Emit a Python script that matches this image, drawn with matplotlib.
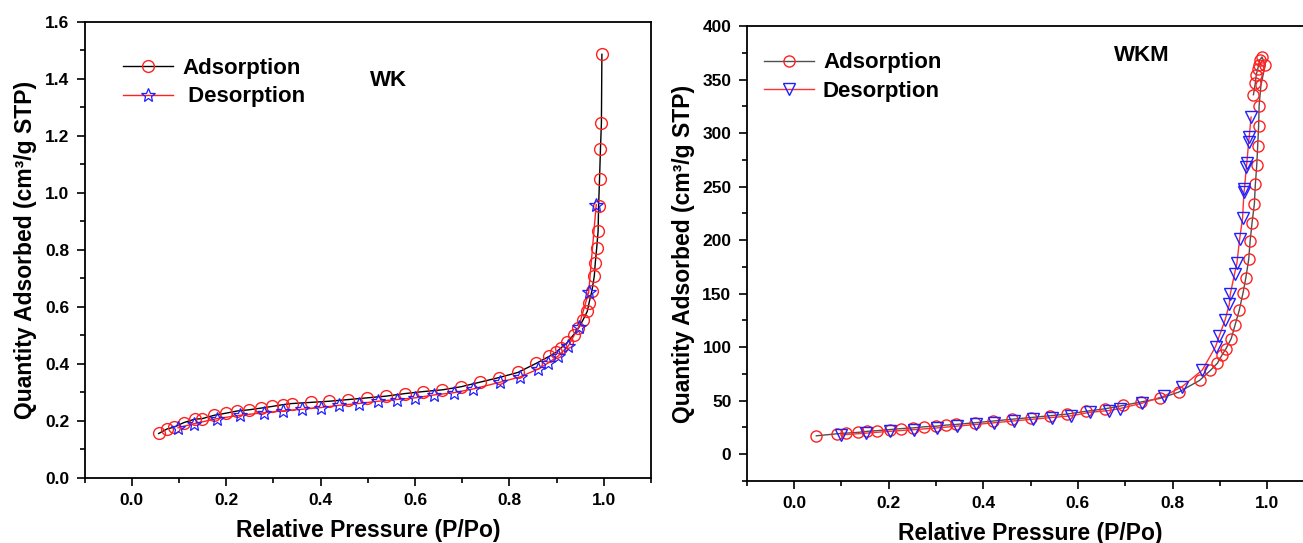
import matplotlib
matplotlib.use("Agg")
import matplotlib.pyplot as plt
from matplotlib.ticker import MultipleLocator

plt.rcParams["font.family"] = ["Liberation Sans", "DejaVu Sans"]
plt.rcParams["font.weight"] = "bold"

# ---- WK (left panel) ----
wk_ads_x = [0.057, 0.075, 0.089, 0.110, 0.133, 0.149, 0.175, 0.199, 0.224, 0.248,
            0.274, 0.298, 0.320, 0.339, 0.379, 0.418, 0.459, 0.499, 0.539, 0.579,
            0.618, 0.658, 0.698, 0.738, 0.778, 0.818, 0.857, 0.885, 0.899, 0.910,
            0.923, 0.936, 0.946, 0.956, 0.965, 0.969, 0.975, 0.980, 0.982, 0.985,
            0.988, 0.989, 0.991, 0.993, 0.995, 0.996]
wk_ads_y = [0.156, 0.172, 0.178, 0.194, 0.206, 0.208, 0.220, 0.227, 0.235, 0.239,
            0.245, 0.251, 0.257, 0.261, 0.265, 0.269, 0.275, 0.281, 0.287, 0.296,
            0.303, 0.309, 0.320, 0.336, 0.352, 0.370, 0.402, 0.427, 0.441, 0.457,
            0.475, 0.502, 0.524, 0.554, 0.584, 0.615, 0.657, 0.709, 0.754, 0.806,
            0.865, 0.952, 1.047, 1.154, 1.245, 1.485]
wk_des_x = [0.984, 0.968, 0.947, 0.925, 0.903, 0.881, 0.860, 0.822, 0.781, 0.723,
            0.682, 0.640, 0.601, 0.561, 0.521, 0.481, 0.440, 0.401, 0.361, 0.320,
            0.281, 0.230, 0.180, 0.131, 0.098]
wk_des_y = [0.958, 0.651, 0.530, 0.463, 0.427, 0.402, 0.381, 0.354, 0.336, 0.312,
            0.299, 0.291, 0.281, 0.275, 0.269, 0.261, 0.255, 0.247, 0.241, 0.235,
            0.229, 0.220, 0.208, 0.190, 0.176]

# ---- WKM (right panel) ----
wkm_ads_x = [0.047, 0.091, 0.109, 0.135, 0.155, 0.175, 0.202, 0.225, 0.252, 0.274,
             0.301, 0.321, 0.342, 0.382, 0.421, 0.461, 0.501, 0.540, 0.577, 0.617,
             0.657, 0.696, 0.734, 0.773, 0.813, 0.857, 0.880, 0.895, 0.904, 0.913,
             0.924, 0.932, 0.941, 0.949, 0.955, 0.961, 0.964, 0.968, 0.973, 0.975,
             0.978, 0.980, 0.982, 0.983, 0.987, 0.996, 0.989, 0.984, 0.982, 0.980,
             0.977, 0.975, 0.971]
wkm_ads_y = [17.2, 19.1, 19.7, 20.4, 21.4, 22.0, 23.0, 23.9, 24.6, 25.6,
             26.2, 27.2, 27.8, 29.4, 31.0, 32.7, 34.3, 35.9, 37.5, 40.1,
             42.4, 45.6, 48.9, 52.1, 58.0, 68.9, 78.3, 85.1, 92.3, 98.6,
             108.0, 120.4, 134.5, 150.7, 165.0, 182.0, 199.0, 216.0, 234.0, 252.0,
             270.0, 288.0, 306.7, 325.7, 345.1, 363.8, 371.1, 367.9, 363.8, 359.8,
             354.5, 346.7, 335.8]
wkm_des_x = [0.966, 0.962, 0.961, 0.957, 0.956, 0.952, 0.951, 0.948, 0.942, 0.936,
             0.931, 0.922, 0.920, 0.911, 0.899, 0.891, 0.863, 0.820, 0.782, 0.735,
             0.689, 0.665, 0.626, 0.586, 0.545, 0.504, 0.465, 0.423, 0.384, 0.344,
             0.303, 0.254, 0.202, 0.153, 0.100]
wkm_des_y = [314.9, 296.0, 292.0, 272.0, 268.0, 248.0, 245.0, 220.5, 201.5, 178.2,
             168.4, 149.4, 140.0, 125.3, 110.7, 100.5, 78.7, 63.0, 54.3, 47.6,
             42.7, 40.8, 39.2, 35.9, 34.3, 32.7, 31.1, 29.4, 27.8, 26.2,
             24.6, 23.0, 21.4, 19.7, 18.1]

XTICKS = [0.0, 0.2, 0.4, 0.6, 0.8, 1.0]

fig = plt.figure(figsize=(13.03, 5.43), dpi=100)
ax1 = fig.add_axes([0.0649, 0.1197, 0.4347, 0.8407])
ax2 = fig.add_axes([0.5731, 0.1142, 0.4357, 0.8379])


def style_axes(ax):
    for sp in ax.spines.values():
        sp.set_linewidth(1.3)
    ax.set_xlim(-0.1, 1.1)
    ax.set_xticks(XTICKS)
    ax.xaxis.set_minor_locator(MultipleLocator(0.1))
    ax.tick_params(which="both", direction="out", top=False, right=False,
                   width=1.2, labelsize=12.5, pad=5)
    ax.tick_params(which="major", length=6)
    ax.tick_params(which="minor", length=3.5)
    ax.set_xlabel("Relative Pressure (P/Po)", fontsize=16.5, fontweight="bold",
                  labelpad=7.5)
    ax.set_ylabel("Quantity Adsorbed (cm³/g STP)", fontsize=16.5,
                  fontweight="bold", labelpad=5.5)


# left panel
ax1.plot(wk_ads_x, wk_ads_y, color="black", linewidth=1.0, marker="o",
         markersize=8.5, markerfacecolor="none", markeredgecolor="#ff2020",
         markeredgewidth=1.0, label="Adsorption", zorder=3)
ax1.plot(wk_des_x, wk_des_y, color="#ff2020", linewidth=1.0, marker="*",
         markersize=10, markerfacecolor="none", markeredgecolor="#2020ff",
         markeredgewidth=0.9, label=" Desorption", zorder=4)
style_axes(ax1)
ax1.set_ylim(0, 1.6)
ax1.yaxis.set_major_locator(MultipleLocator(0.2))
ax1.yaxis.set_minor_locator(MultipleLocator(0.1))
ax1.text(0.545, 1.393, "WK", fontsize=16, fontweight="bold",
         ha="center", va="center")
ax1.legend(loc="upper left", bbox_to_anchor=(0.068, 0.92), frameon=False,
           fontsize=16, handlelength=2.25, handletextpad=0.4,
           labelspacing=0.33, borderpad=0, borderaxespad=0)

# right panel
ax2.plot(wkm_ads_x, wkm_ads_y, color="#505050", linewidth=1.0, marker="o",
         markersize=8, markerfacecolor="none", markeredgecolor="#ff2020",
         markeredgewidth=1.0, label="Adsorption", zorder=3)
ax2.plot(wkm_des_x, wkm_des_y, color="#ff3030", linewidth=1.0, marker="v",
         markersize=8, markerfacecolor="none", markeredgecolor="#2020ff",
         markeredgewidth=1.0, label="Desorption", zorder=4)
style_axes(ax2)
ax2.set_ylim(-25, 400)
ax2.yaxis.set_major_locator(MultipleLocator(50))
ax2.yaxis.set_minor_locator(MultipleLocator(25))
ax2.text(0.736, 372.8, "WKM", fontsize=16, fontweight="bold",
         ha="center", va="center")
ax2.legend(loc="upper left", bbox_to_anchor=(0.0305, 0.942), frameon=False,
           fontsize=16, handlelength=2.25, handletextpad=0.4,
           labelspacing=0.33, borderpad=0, borderaxespad=0)

fig.savefig("out.png", dpi=100)
